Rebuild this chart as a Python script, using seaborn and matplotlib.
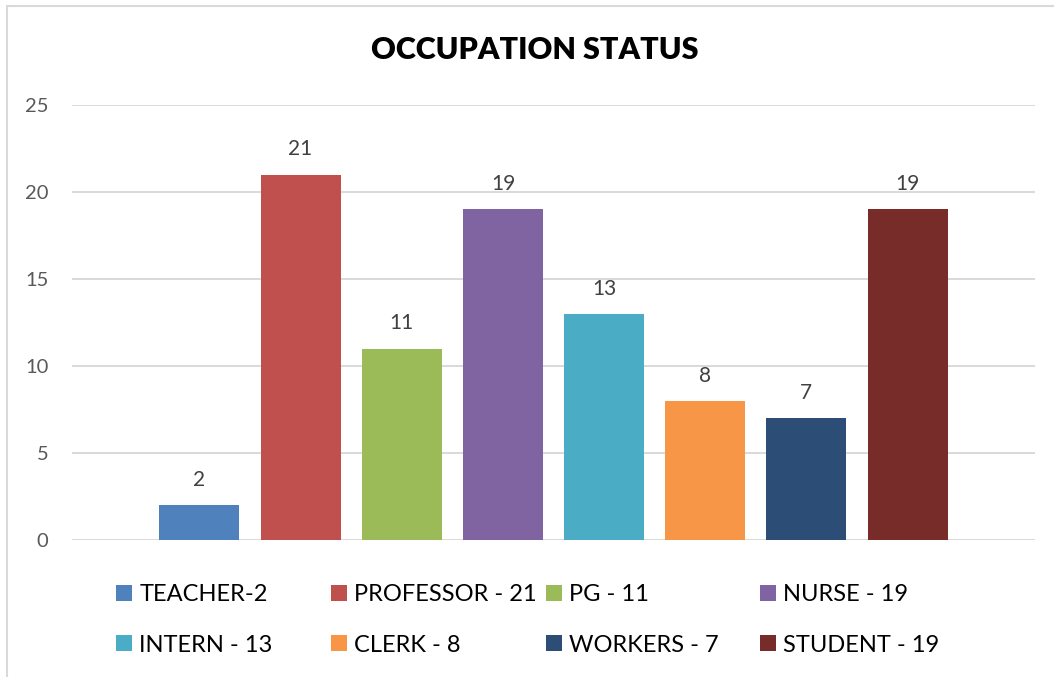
import matplotlib
matplotlib.use("Agg")
from matplotlib import pyplot as plt
from matplotlib.patches import Patch
from matplotlib.lines import Line2D
import seaborn as sns

# data
categories = ["TEACHER", "PROFESSOR", "PG", "NURSE", "INTERN", "CLERK", "WORKERS", "STUDENT"]
values = [2, 21, 11, 19, 13, 8, 7, 19]
legend_labels = ["TEACHER-2", "PROFESSOR - 21", "PG - 11", "NURSE - 19",
                 "INTERN - 13", "CLERK - 8", "WORKERS - 7", "STUDENT - 19"]
colors = ["#4F81BD", "#C0504D", "#9BBB59", "#8064A2",
          "#4BACC6", "#F79646", "#2C4D75", "#772C2A"]
yticks = [0, 5, 10, 15, 20, 25]

sns.set_style("white")
plt.rcParams['font.family'] = ['Lato', 'DejaVu Sans']

W, H = 1054, 677
fig = plt.figure(figsize=(W / 100, H / 100), dpi=100)
ax = fig.add_axes([72 / W, (H - 540) / H, 963 / W, 435 / H])

sns.barplot(x=categories, y=values, hue=categories, order=categories,
            hue_order=categories, palette=colors, saturation=1,
            width=0.79, legend=False, ax=ax, zorder=3, linewidth=0)

for cont in ax.containers:
    ax.bar_label(cont, fontsize=15, color="#404040", padding=11)

ax.set_ylim(0, 25)
ax.set_xlim(-1.26, 7 + 1.26)
ax.set_yticks(yticks)
ax.set_xticks([])
ax.set_xlabel("")
ax.set_ylabel("")
ax.tick_params(axis="y", length=0, pad=17, labelsize=14.5, labelcolor="#595959")
ax.grid(axis="y", color="#D9D9D9", linewidth=1.4, zorder=0)
ax.set_axisbelow(True)
sns.despine(ax=ax, left=True, bottom=True)

# title
fig.text(535 / W, 1 - 50 / H, "OCCUPATION STATUS", ha="center", va="center",
         fontsize=22, fontweight="heavy", color="black")

# legend: 4 equal-width columns, two rows
col_x = [116, 331, 546, 760]
for c in range(4):
    idx = [c, c + 4]
    handles = [Patch(facecolor=colors[i], edgecolor="none") for i in idx]
    leg = fig.legend(handles, [legend_labels[i] for i in idx],
                     loc="upper left", bbox_to_anchor=(col_x[c] / W, 1 - 584 / H),
                     frameon=False, fontsize=17, borderpad=0, borderaxespad=0,
                     handlelength=0.68, handleheight=0.68, handletextpad=0.3,
                     labelspacing=1.25)
    for t in leg.get_texts():
        t.set_color("black")

# chart area border (top and left visible)
fig.add_artist(Line2D([7 / W, 7 / W], [0, 1 - 6 / H], color="#D9D9D9", lw=1.5))
fig.add_artist(Line2D([7 / W, 1], [1 - 6 / H, 1 - 6 / H], color="#D9D9D9", lw=1.5))

fig.savefig("out.png", dpi=100)
